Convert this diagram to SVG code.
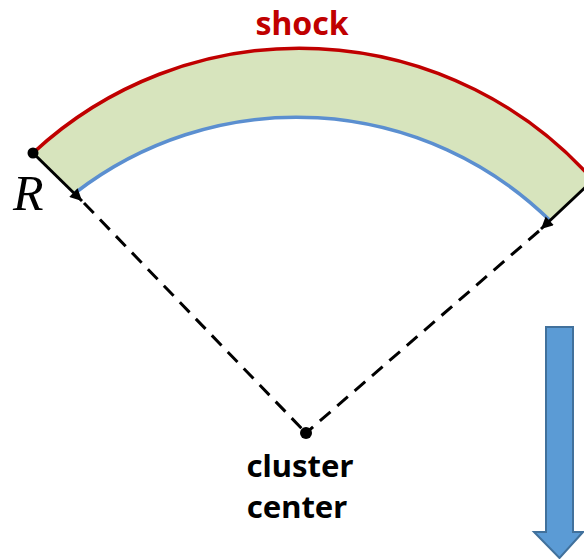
<svg xmlns="http://www.w3.org/2000/svg" width="584" height="559" viewBox="0 0 584 559">
<style>
.lbl{font-family:"Noto Sans","Liberation Sans",sans-serif;font-weight:bold;text-anchor:middle}
.solid{stroke:#000;stroke-width:3;fill:none}
.dash{stroke:#000;stroke-width:3;fill:none;stroke-dasharray:14 9}
.dot{fill:#000}
</style>
<defs>
<marker id="ah" viewBox="0 0 10 10" refX="10" refY="5" markerWidth="14" markerHeight="12" markerUnits="userSpaceOnUse" orient="auto">
<path d="M0,0 L10,5 L0,10 z" fill="#000"/>
</marker>
</defs>
<g id="shell">
<path d="M33,153 A392,392 0 0 1 593,180 L550,220.6 A362,362 0 0 0 75,193 Z" fill="#d7e4bd" stroke="none"/>
<path d="M33,153 A392,392 0 0 1 593,180" fill="none" stroke="#c00000" stroke-width="3.5"/>
<path d="M75,193 A362,362 0 0 1 550,220.6" fill="none" stroke="#5b8fd0" stroke-width="3.5"/>
</g>
<g id="connectors">
<line class="solid" x1="33" y1="153" x2="82" y2="201" marker-end="url(#ah)"/>
<line class="dash" x1="84" y1="203" x2="306" y2="433"/>
<line class="solid" x1="593" y1="180" x2="541" y2="229" marker-end="url(#ah)"/>
<line class="dash" x1="539" y1="231" x2="306" y2="433"/>
</g>
<g id="left-point"><circle class="dot" cx="33" cy="153" r="5.5"/></g>
<g id="right-point"><circle class="dot" cx="593" cy="180" r="5.5"/></g>
<g id="cluster-center">
<circle class="dot" cx="306" cy="433" r="6"/>
<text class="lbl" x="300" y="477" font-size="31" fill="#000">cluster</text>
<text class="lbl" x="297" y="518" font-size="31" fill="#000">center</text>
</g>
<g id="shock-label"><text class="lbl" x="302" y="35" font-size="32" fill="#c00000">shock</text></g>
<g id="R-label"><text x="13" y="210" font-family="Liberation Serif,serif" font-style="italic" font-size="50" fill="#000">R</text></g>
<g id="down-arrow">
<path d="M546,327 L573,327 L573,532 L583,532 L559.5,558 L534,532 L546,532 Z" fill="#5b9bd5" stroke="#41719c" stroke-width="2" stroke-linejoin="miter"/>
</g>
</svg>
